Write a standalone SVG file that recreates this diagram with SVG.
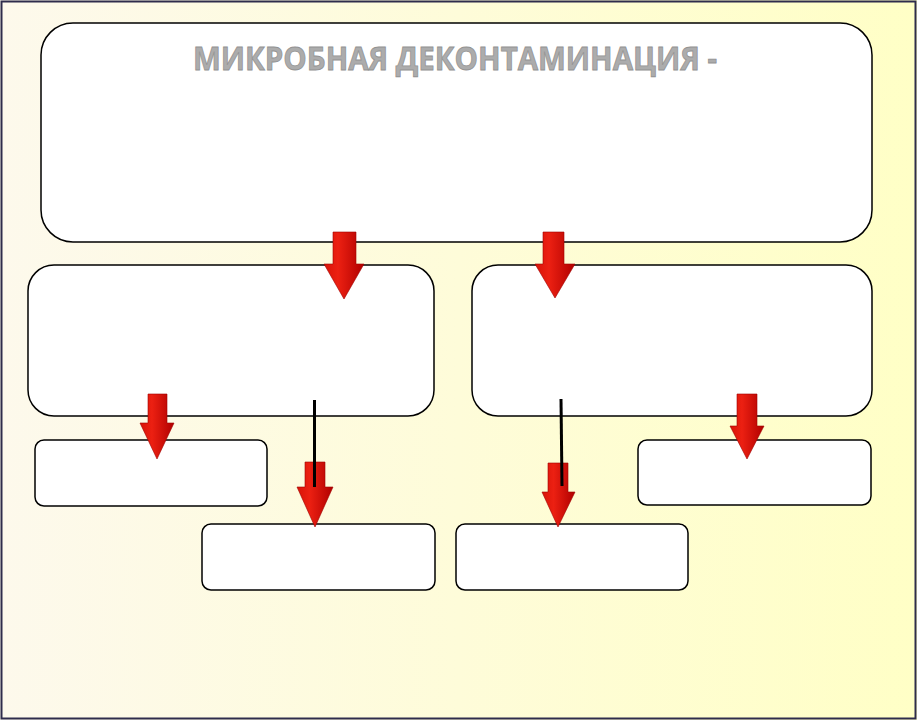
<svg xmlns="http://www.w3.org/2000/svg" width="917" height="720" viewBox="0 0 917 720">
<defs>
<linearGradient id="bg" x1="0" y1="0" x2="1" y2="0">
<stop offset="0" stop-color="#fdf9ec"/>
<stop offset="1" stop-color="#ffffc6"/>
</linearGradient>
<linearGradient id="red" x1="0" y1="0" x2="1" y2="0">
<stop offset="0" stop-color="#d81408"/>
<stop offset="0.35" stop-color="#ec2012"/>
<stop offset="1" stop-color="#b00000"/>
</linearGradient>
<style>
.box{fill:#ffffff;stroke:#000;stroke-width:1.5}
.arr{fill:url(#red);stroke:#a00000;stroke-width:0.6}
.ln{stroke:#000;stroke-width:3;fill:none}
.title{font-family:"Open Sans","Liberation Sans",sans-serif;font-weight:bold;font-size:33px;fill:#acacac;stroke:#929292;stroke-width:0.8}
</style>
</defs>
<rect x="0" y="0" width="917" height="720" fill="url(#bg)"/>
<rect x="1.5" y="1.5" width="914" height="717" fill="none" stroke="#2e2c4c" stroke-width="2"/>

<g id="top">
<rect class="box" x="41" y="23" width="831" height="219" rx="32" stroke-width="1.2"/>
<text class="title" x="455" y="70" text-anchor="middle" textLength="524" lengthAdjust="spacingAndGlyphs">МИКРОБНАЯ ДЕКОНТАМИНАЦИЯ -</text>
</g>
<g id="midLeft"><rect class="box" x="28" y="265" width="406" height="151" rx="26"/></g>
<g id="midRight"><rect class="box" x="472" y="265" width="400" height="151" rx="26"/></g>
<g id="smallLeft"><rect class="box" x="35" y="440" width="232" height="66" rx="9"/></g>
<g id="bottom1"><rect class="box" x="202" y="524" width="233" height="66" rx="9"/></g>
<g id="bottom2"><rect class="box" x="456" y="524" width="232" height="66" rx="9"/></g>
<g id="smallRight"><rect class="box" x="638" y="440" width="233" height="65" rx="9"/></g>

<g id="connectors">
<path class="arr" d="M333,232 H356 V264 H364 L344,299 L324,264 H333 Z"/>
<path class="arr" d="M543,232 H564 V264 H575 L555,298 L535,264 H543 Z"/>
<path class="arr" d="M148,394 H167 V423 H174 L157,459 L140,423 H148 Z"/>
<path class="arr" d="M737,394 H757 V426 H764 L747,459 L730,426 H737 Z"/>
<path class="arr" d="M305,462 H325 V487 H333 L315,527 L297,487 H305 Z"/>
<path class="arr" d="M548,463 H568 V492 H575 L558,527 L542,492 H548 Z"/>
<line class="ln" x1="314.5" y1="400" x2="314.5" y2="487"/>
<line class="ln" x1="561" y1="399" x2="562" y2="486"/>
</g>
</svg>
